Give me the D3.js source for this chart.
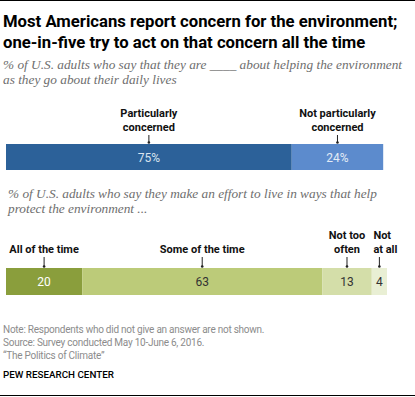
<!DOCTYPE html>
<head>
<meta charset="utf-8">
<script src="https://d3js.org/d3.v7.min.js"></script>
<style>
body { margin: 0; background: #fff; }
svg text { font-family: Roboto, "Liberation Sans", sans-serif; }
.title { font-weight: bold; font-size: 16.7px; fill: #000; }
.sub { font-family: "Liberation Serif", serif !important; font-style: italic; font-size: 13.3px; fill: #6e6e6e; }
.lab { font-weight: bold; font-size: 11px; fill: #111; }
.val { font-size: 12px; }
.note { font-size: 10px; fill: #8c8c8c; letter-spacing: -0.25px; }
.pew { font-size: 9.8px; font-weight: 500; fill: #000; }
</style>
</head>
<body>
<svg id="chart" width="415" height="397"></svg>
<script>
// data
var concernCats = ["Particularly concerned", "Not particularly concerned"],
    concernVals = [75, 24],
    concernLabels = [["Particularly", "concerned"], ["Not particularly", "concerned"]],
    concernColors = ["#2c6199", "#5c8bcd"],
    concernText = ["#dbe4ef", "#e3ebf6"];

var effortCats = ["All of the time", "Some of the time", "Not too often", "Not at all"],
    effortVals = [20, 63, 13, 4],
    effortLabels = [["All of the time"], ["Some of the time"], ["Not too", "often"], ["Not", "at all"]],
    effortColors = ["#8a9e3c", "#bccb79", "#d4dea9", "#e9efd4"],
    effortText = ["#ffffff", "#333333", "#333333", "#333333"];

var svg = d3.select("#chart");

var x = d3.scaleLinear().domain([0, 100]).range([6, 387]);

// rules
svg.append("line").attr("x1", 0).attr("x2", 415).attr("y1", 0.5).attr("y2", 0.5)
    .style("stroke", "#000").style("stroke-width", 1);
svg.append("line").attr("x1", 0).attr("x2", 415).attr("y1", 395.5).attr("y2", 395.5)
    .style("stroke", "#000").style("stroke-width", 1);

// title + subtitles
svg.append("text").attr("class", "title").attr("x", 3).attr("y", 27)
    .text("Most Americans report concern for the environment;");
svg.append("text").attr("class", "title").attr("x", 3).attr("y", 48)
    .text("one-in-five try to act on that concern all the time");

svg.append("text").attr("class", "sub").attr("x", 3).attr("y", 69)
    .text("% of U.S. adults who say that they are ____ about helping the environment");
svg.append("text").attr("class", "sub").attr("x", 3).attr("y", 84)
    .text("as they go about their daily lives");

svg.append("text").attr("class", "sub").attr("x", 8).attr("y", 198)
    .text("% of U.S. adults who say they make an effort to live in ways that help");
svg.append("text").attr("class", "sub").attr("x", 8).attr("y", 213)
    .text("protect the environment ...");

function drawBar(cats, vals, labels, colors, textColors, y0, h, suffix, labelBase, anchors) {
    var start = 0;
    var segs = vals.map(function(v, i) {
        var s = {cat: cats[i], v: v, x0: start, x1: start + v, i: i};
        start += v;
        return s;
    });

    var g = svg.append("g");

    g.selectAll("rect").data(segs).enter().append("rect")
        .attr("x", d => x(d.x0))
        .attr("y", y0)
        .attr("width", d => x(d.x1) - x(d.x0))
        .attr("height", h)
        .style("fill", d => colors[d.i]);

    g.selectAll(".val").data(segs).enter().append("text")
        .attr("class", "val")
        .attr("x", d => (x(d.x0) + x(d.x1)) / 2)
        .attr("y", y0 + h / 2 + 4.5)
        .attr("text-anchor", "middle")
        .style("fill", d => textColors[d.i])
        .text(d => d.v + suffix);

    // tick marks
    g.selectAll(".tick").data(segs).enter().append("line")
        .attr("x1", d => (x(d.x0) + x(d.x1)) / 2)
        .attr("x2", d => (x(d.x0) + x(d.x1)) / 2)
        .attr("y1", labelBase + 4)
        .attr("y2", y0 - 1)
        .style("stroke", "#222").style("stroke-width", 1);
    g.selectAll(".dot").data(segs).enter().append("circle")
        .attr("cx", d => (x(d.x0) + x(d.x1)) / 2)
        .attr("cy", y0 - 1.5)
        .attr("r", 1.3)
        .style("fill", "#222");

    // category labels (last line sits at labelBase)
    segs.forEach(function(d) {
        var lines = labels[d.i];
        var cx = (x(d.x0) + x(d.x1)) / 2;
        var anchor = anchors ? anchors[d.i] : "middle";
        var tx = anchor === "start" ? cx - 6 : cx;
        lines.forEach(function(l, j) {
            g.append("text").attr("class", "lab")
                .attr("x", tx)
                .attr("y", labelBase - (lines.length - 1 - j) * 14.5)
                .attr("text-anchor", anchor)
                .text(l);
        });
    });
}

drawBar(concernCats, concernVals, concernLabels, concernColors, concernText, 144, 26, "%", 131);
drawBar(effortCats, effortVals, effortLabels, effortColors, effortText, 268, 27, "", 253,
    ["middle", "middle", "middle", "start"]);

// notes
svg.append("text").attr("class", "note").attr("x", 3).attr("y", 333)
    .text("Note: Respondents who did not give an answer are not shown.");
svg.append("text").attr("class", "note").attr("x", 3).attr("y", 346)
    .text("Source: Survey conducted May 10-June 6, 2016.");
svg.append("text").attr("class", "note").attr("x", 3).attr("y", 359)
    .text("\u201CThe Politics of Climate\u201D");
svg.append("text").attr("class", "pew").attr("x", 3).attr("y", 378)
    .text("PEW RESEARCH CENTER");
</script>
</body>
</html>
